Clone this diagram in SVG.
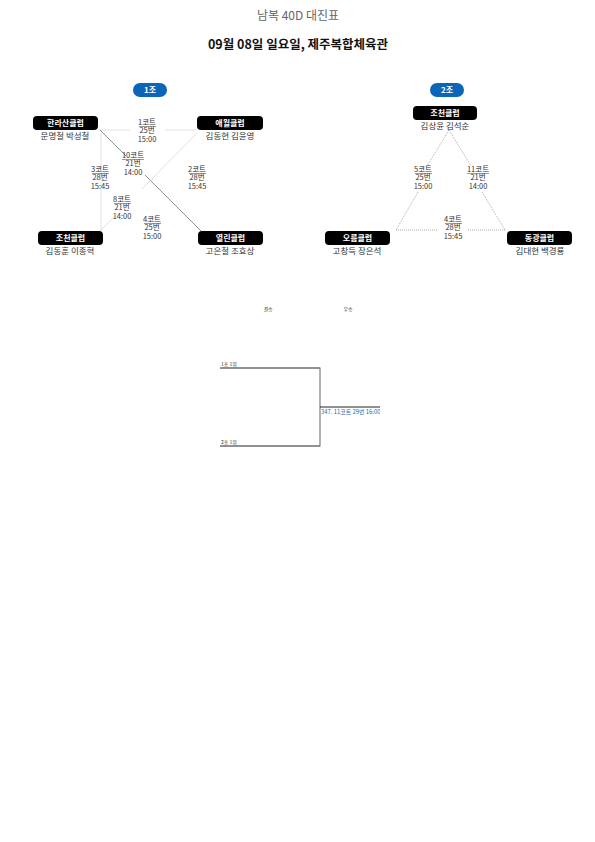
<svg xmlns="http://www.w3.org/2000/svg" width="595" height="842" viewBox="0 0 595 842">
<style>
text{font-family:"Noto Sans CJK KR","Noto Sans",sans-serif}
.title{font-size:12px;fill:#666;text-anchor:middle}
.sub{font-size:12.5px;fill:#111;text-anchor:middle;font-weight:bold}
.pill{fill:#0b66b8}
.pt{font-size:8px;fill:#fff;text-anchor:middle;font-weight:bold}
.box{fill:#000}
.bt{font-size:8px;fill:#fff;text-anchor:middle;font-weight:bold}
.nm{font-size:8.5px;fill:#333;text-anchor:middle}
.lb{font-size:7.5px;fill:#333;text-anchor:middle}
.ul{stroke:#333;stroke-width:0.5}
.light{stroke:#ccc;stroke-width:0.6;fill:none}
.dark{stroke:#444;stroke-width:0.6;fill:none}
.dot{stroke:#777;stroke-width:0.6;stroke-dasharray:1,1;fill:none}
.tiny{font-size:5px;fill:#333}
.br{stroke:#222;stroke-width:1;fill:none}
</style>
<defs><clipPath id="cp"><rect x="320" y="400" width="60" height="20"/></clipPath></defs>
<text class="title" x="298" y="20">남복 40D 대진표</text>
<text class="sub" x="298" y="49">09월 08일 일요일, 제주복합체육관</text>

<g id="pill1"><rect class="pill" x="133" y="83" width="34" height="14" rx="7"/><text class="pt" x="150" y="93">1조</text></g>
<g id="pill2"><rect class="pill" x="430" y="83" width="34" height="14" rx="7"/><text class="pt" x="447" y="93">2조</text></g>

<g id="connectors">
<line class="light" x1="98" y1="130" x2="130" y2="130"/><line class="light" x1="165" y1="130" x2="197" y2="130"/>
<line class="dark" x1="100" y1="130" x2="126" y2="156"/><line class="dark" x1="145" y1="175" x2="201" y2="231"/>
<line class="light" x1="197" y1="133" x2="142" y2="189"/><line class="light" x1="115" y1="216" x2="100" y2="231"/>
<line class="light" x1="101" y1="133" x2="101" y2="231"/>
<line class="dot" x1="449" y1="130" x2="427" y2="166"/><line class="dot" x1="418" y1="192" x2="396" y2="230"/>
<line class="dot" x1="449" y1="130" x2="471" y2="166"/><line class="dot" x1="482" y1="192" x2="505" y2="230"/>
<line class="dot" x1="396" y1="230" x2="438" y2="230"/><line class="dot" x1="468" y1="230" x2="505" y2="230"/>
</g>

<g id="labels1">
<text class="lb" x="147" y="125">1코트<tspan x="147" dy="8">25번</tspan><tspan x="147" dy="8.5">15:00</tspan></text><line class="ul" x1="139" y1="126.5" x2="156" y2="126.5"/>
<text class="lb" x="133" y="158">10코트<tspan x="133" dy="8">21번</tspan><tspan x="133" dy="8.5">14:00</tspan></text><line class="ul" x1="122" y1="159.5" x2="144" y2="159.5"/>
<text class="lb" x="100" y="172">3코트<tspan x="100" dy="8">28번</tspan><tspan x="100" dy="8.5">15:45</tspan></text><line class="ul" x1="92" y1="173.5" x2="109" y2="173.5"/>
<text class="lb" x="197" y="172">2코트<tspan x="197" dy="8">28번</tspan><tspan x="197" dy="8.5">15:45</tspan></text><line class="ul" x1="189" y1="173.5" x2="206" y2="173.5"/>
<text class="lb" x="122" y="202">8코트<tspan x="122" dy="8">21번</tspan><tspan x="122" dy="8.5">14:00</tspan></text><line class="ul" x1="114" y1="203.5" x2="131" y2="203.5"/>
<text class="lb" x="152" y="222">4코트<tspan x="152" dy="8">25번</tspan><tspan x="152" dy="8.5">15:00</tspan></text><line class="ul" x1="144" y1="223.5" x2="161" y2="223.5"/>
</g>
<g id="labels2">
<text class="lb" x="423" y="172">5코트<tspan x="423" dy="8">25번</tspan><tspan x="423" dy="8.5">15:00</tspan></text><line class="ul" x1="415" y1="173.5" x2="432" y2="173.5"/>
<text class="lb" x="478" y="172">11코트<tspan x="478" dy="8">21번</tspan><tspan x="478" dy="8.5">14:00</tspan></text><line class="ul" x1="467" y1="173.5" x2="489" y2="173.5"/>
<text class="lb" x="453" y="222">4코트<tspan x="453" dy="8">28번</tspan><tspan x="453" dy="8.5">15:45</tspan></text><line class="ul" x1="445" y1="223.5" x2="462" y2="223.5"/>
</g>

<g id="n-hallasan"><rect class="box" x="33" y="116" width="65" height="14" rx="4"/><text class="bt" x="65.5" y="126">한라산클럽</text><text class="nm" x="65" y="139">문명철 박성철</text></g>
<g id="n-aewol"><rect class="box" x="197" y="116" width="66" height="14" rx="4"/><text class="bt" x="230" y="126">애월클럽</text><text class="nm" x="230" y="139">김동현 김윤영</text></g>
<g id="n-jocheon1"><rect class="box" x="38" y="231" width="65" height="14" rx="4"/><text class="bt" x="70.5" y="241">조천클럽</text><text class="nm" x="70" y="254">김동훈 이종혁</text></g>
<g id="n-yeollin"><rect class="box" x="198" y="231" width="65" height="14" rx="4"/><text class="bt" x="230.5" y="241">열린클럽</text><text class="nm" x="230" y="254">고은철 조효상</text></g>

<g id="n-jocheon2"><rect class="box" x="413" y="106" width="64" height="14" rx="4"/><text class="bt" x="445" y="116">조천클럽</text><text class="nm" x="445" y="129">김상윤 김석순</text></g>
<g id="n-oreum"><rect class="box" x="325" y="231" width="65" height="14" rx="4"/><text class="bt" x="357.5" y="241">오름클럽</text><text class="nm" x="357" y="254">고창득 장은석</text></g>
<g id="n-donggwang"><rect class="box" x="507" y="231" width="65" height="14" rx="4"/><text class="bt" x="539.5" y="241">동광클럽</text><text class="nm" x="540" y="254">김대현 백경룡</text></g>

<g id="bracket">
<text class="tiny" x="268" y="311" text-anchor="middle" fill="#555">결승</text>
<text class="tiny" x="348" y="311" text-anchor="middle" fill="#555">우승</text>
<text class="tiny" x="221" y="366">1조 1위</text>
<line class="br" x1="220" y1="368" x2="320" y2="368"/>
<text class="tiny" x="221" y="444">2조 1위</text>
<line class="br" x1="220" y1="446" x2="320" y2="446"/>
<line x1="320" y1="367.5" x2="320" y2="446.5" stroke="#888" stroke-width="1.3"/>
<line class="br" x1="320" y1="407" x2="380" y2="407"/>
<text x="321" y="414" font-size="5.9" fill="#1a6bb8" clip-path="url(#cp)">347. 11코트 29번 16:00</text>
</g>
</svg>
